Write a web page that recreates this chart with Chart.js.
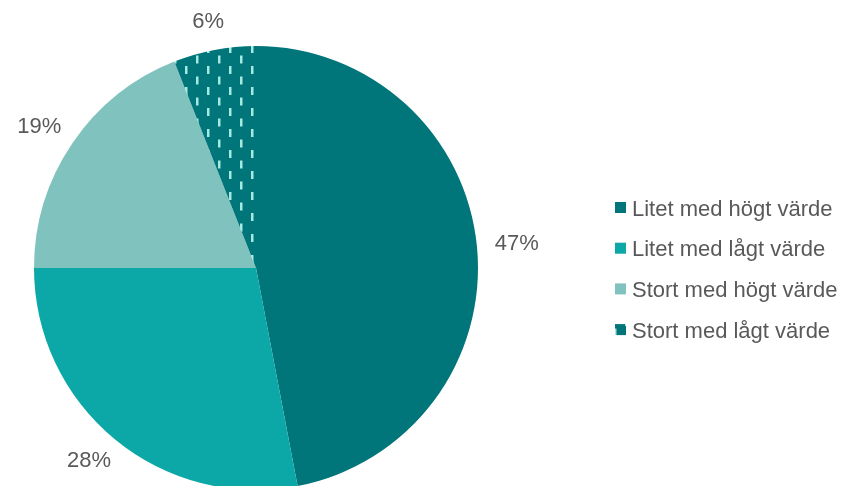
<!DOCTYPE html>
<html>
<head>
<meta charset="utf-8">
<script src="https://cdn.jsdelivr.net/npm/chart.js@4.4.1/dist/chart.umd.min.js"></script>
<style>
  html, body { margin: 0; padding: 0; background: #ffffff; overflow: hidden; width: 845px; height: 486px; }
  canvas { display: block; }
</style>
</head>
<body>
<canvas id="c" width="845" height="536"></canvas>
<script>
const categories = ['Litet med högt värde', 'Litet med lågt värde', 'Stort med högt värde', 'Stort med lågt värde'];
const shares = [47, 28, 19, 6];
const valueLabels = ['47%', '28%', '19%', '6%'];

const DARK = '#00757A';
const MID = '#0BA8A7';
const LIGHT = '#80C2BD';
const DASH = '#A4EAE1';
const TEXT = '#595959';
const FONT = '22px "Liberation Sans", Arial, sans-serif';

function makePattern(ctx) {
  const t = document.createElement('canvas');
  t.width = 22; t.height = 21;
  const g = t.getContext('2d');
  g.fillStyle = DARK;
  g.fillRect(0, 0, 22, 21);
  g.fillStyle = DASH;
  g.fillRect(9, 3, 2.5, 8);
  g.fillRect(20, 13.5, 2.5, 8);
  g.fillRect(20, -7.5, 2.5, 8);
  g.fillRect(-2, 13.5, 2.5, 8);
  g.fillRect(-2, -7.5, 2.5, 8);
  return ctx.createPattern(t, 'repeat');
}

const canvas = document.getElementById('c');
const ctx0 = canvas.getContext('2d');
const pattern = makePattern(ctx0);
const fills = [DARK, MID, LIGHT, pattern];

const labelPlugin = {
  id: 'labelsAndLegend',
  afterDraw(chart) {
    const ctx = chart.ctx;
    const meta = chart.getDatasetMeta(0);
    ctx.save();
    ctx.font = FONT;
    ctx.fillStyle = TEXT;
    ctx.textAlign = 'center';
    ctx.textBaseline = 'middle';
    const gap = 18, h = 22;
    meta.data.forEach((arc, i) => {
      const p = arc.getProps(['x', 'y', 'startAngle', 'endAngle', 'outerRadius'], true);
      const mid = (p.startAngle + p.endAngle) / 2;
      const ux = Math.cos(mid), uy = Math.sin(mid);
      const w = ctx.measureText(valueLabels[i]).width;
      const cx = p.x + (p.outerRadius + gap) * ux + ux * w / 2;
      const cy = p.y + (p.outerRadius + gap) * uy + uy * h / 2;
      ctx.fillText(valueLabels[i], cx, cy);
    });
    // legend
    const boxX = 615, box = 11, textX = 632, firstY = 207.5, step = 40.7;
    ctx.textAlign = 'left';
    ctx.textBaseline = 'alphabetic';
    categories.forEach((name, i) => {
      const cy = firstY + i * step;
      ctx.fillStyle = fills[i];
      ctx.fillRect(boxX, cy - box / 2, box, box);
      ctx.fillStyle = TEXT;
      ctx.fillText(name, textX, cy + 8);
    });
    ctx.restore();
  }
};

new Chart(canvas, {
  type: 'pie',
  data: {
    labels: categories,
    datasets: [{
      data: shares,
      backgroundColor: fills,
      borderWidth: 0,
      hoverOffset: 0
    }]
  },
  options: {
    responsive: false,
    animation: false,
    layout: { padding: { left: 34, top: 46, right: 367, bottom: 46 } },
    plugins: {
      legend: { display: false },
      tooltip: { enabled: false }
    }
  },
  plugins: [labelPlugin]
});
</script>
</body>
</html>
